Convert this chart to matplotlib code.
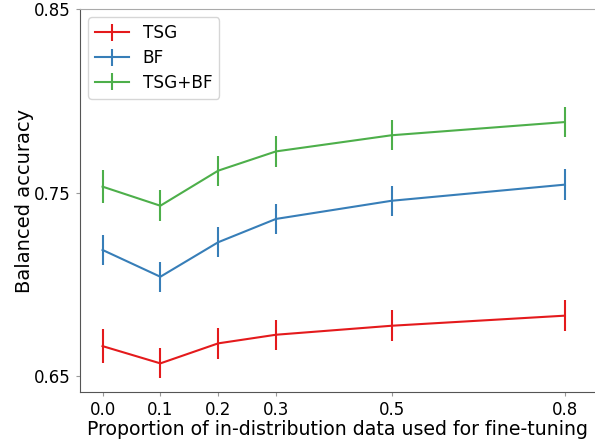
import matplotlib
matplotlib.use("Agg")
import matplotlib.pyplot as plt

proportions = [0.0, 0.1, 0.2, 0.3, 0.5, 0.8]
tick_labels = ["0.0", "0.1", "0.2", "0.3", "0.5", "0.8"]

tsg = [0.6663, 0.6569, 0.6678, 0.6725, 0.6774, 0.6829]
tsg_err = [0.0092, 0.0082, 0.0083, 0.0083, 0.0084, 0.0085]

bf = [0.7187, 0.7041, 0.7229, 0.7356, 0.7455, 0.7543]
bf_err = [0.0082, 0.0081, 0.0081, 0.0081, 0.0082, 0.0083]

tsgbf = [0.7532, 0.7428, 0.7619, 0.7724, 0.7812, 0.7884]
tsgbf_err = [0.0088, 0.0083, 0.0082, 0.0083, 0.0081, 0.0080]

series = [("TSG", tsg, tsg_err, "#e41a1c"),
          ("BF", bf, bf_err, "#377eb8"),
          ("TSG+BF", tsgbf, tsgbf_err, "#4daf4a")]

fig = plt.figure(figsize=(5.95, 4.44), dpi=100)
ax = fig.add_axes([80 / 595, 52 / 444, 1 - 80 / 595, 383 / 444])

for name, vals, err, col in series:
    ax.errorbar(proportions, vals, yerr=err, color=col, lw=1.5,
                elinewidth=1.5, capsize=0, label=name)

ax.set_xlim(-0.039, 0.852)
ax.set_ylim(0.6413, 0.85)
ax.set_xticks(proportions)
ax.set_xticklabels(tick_labels)
ax.set_yticks([0.65, 0.75, 0.85])
ax.set_yticklabels(["0.65", "0.75", "0.85"])
ax.tick_params(labelsize=12, color="#999999", length=3)

ax.set_xlabel("Proportion of in-distribution data used for fine-tuning", fontsize=13.6, labelpad=1)
ax.set_ylabel("Balanced accuracy", fontsize=14, labelpad=0)

ax.spines["right"].set_visible(False)
ax.spines["top"].set_color("#aaaaaa")
ax.spines["left"].set_color("#555555")
ax.spines["bottom"].set_color("#555555")

ax.legend(loc="upper left", fontsize=12.2, labelspacing=0.4)

fig.savefig("out.png", dpi=100)
